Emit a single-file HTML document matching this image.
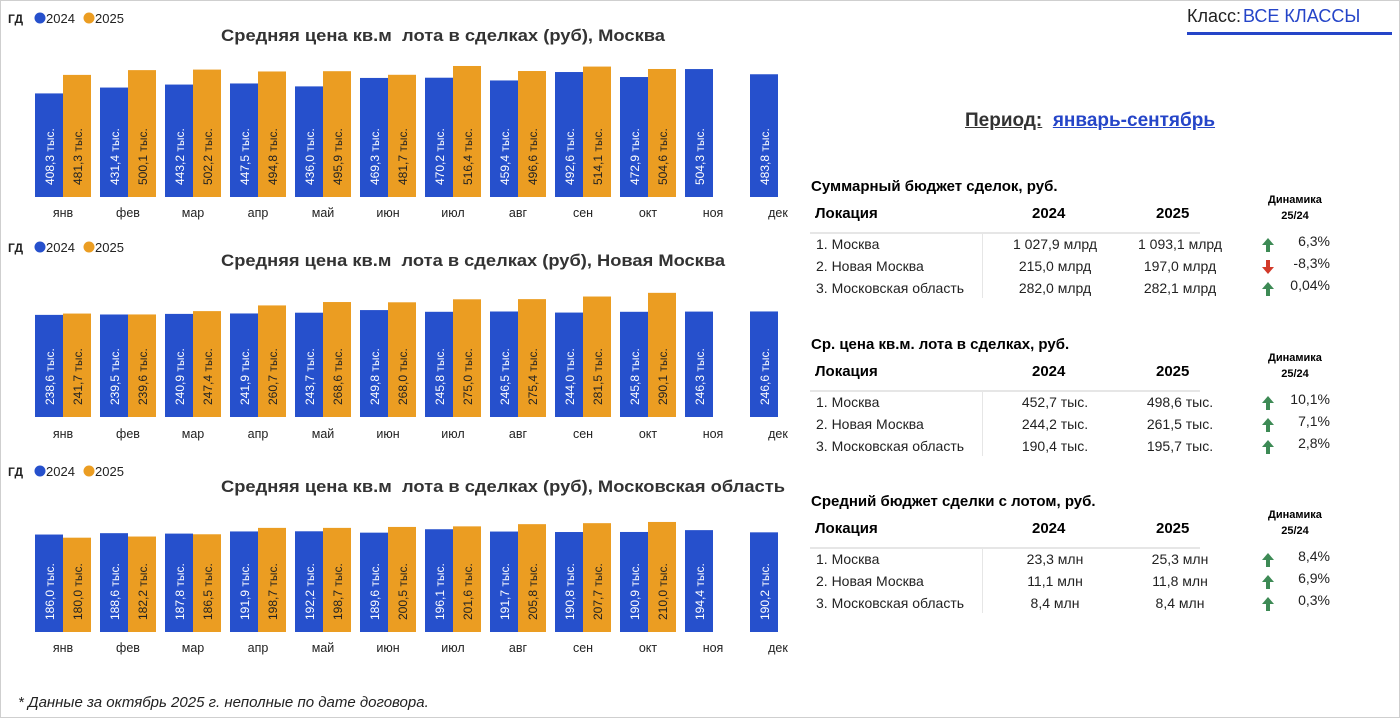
<!DOCTYPE html>
<html><head><meta charset="utf-8">
<style>
body{margin:0;width:1400px;height:718px;background:#fff;font-family:"Liberation Sans",Arial,sans-serif;overflow:hidden;position:relative}
#frame{position:absolute;left:0;top:0;width:1398px;height:716px;border:1px solid #cfcfcf}
.abs{position:absolute;white-space:nowrap}
.tbl-title{font-weight:bold;font-size:15px;color:#000}
.hdr{font-weight:bold;font-size:15px}
.cell{font-size:14px;color:#222}
.dyn{font-weight:bold;font-size:11px;text-align:center;width:80px}
</style></head><body>
<div id="frame"></div>
<svg id="charts" class="abs" style="left:0;top:0" width="800" height="680"></svg>
<div class="abs" style="left:1187px;top:6px;font-size:18px;color:#222">Класс:<span style="color:#2545c8;margin-left:2px">ВСЕ КЛАССЫ</span></div>
<div class="abs" style="left:1187px;top:32px;width:205px;height:3px;background:#2545c8"></div>
<div class="abs" style="left:965px;top:110px;font-size:19px;font-weight:bold;color:#333"><u>Период:</u>&nbsp; <u style="color:#2545c8">январь-сентябрь</u></div>
<div id="tables"></div>
<div class="abs" style="left:18px;top:694px;font-size:15px;font-style:italic;color:#222">* Данные за октябрь 2025 г. неполные по дате договора.</div>
<script>
const months=["янв","фев","мар","апр","май","июн","июл","авг","сен","окт","ноя","дек"];
const moscow2024=[408.3,431.4,443.2,447.5,436.0,469.3,470.2,459.4,492.6,472.9,504.3,483.8];
const moscow2025=[481.3,500.1,502.2,494.8,495.9,481.7,516.4,496.6,514.1,504.6];
const newMoscow2024=[238.6,239.5,240.9,241.9,243.7,249.8,245.8,246.5,244.0,245.8,246.3,246.6];
const newMoscow2025=[241.7,239.6,247.4,260.7,268.6,268.0,275.0,275.4,281.5,290.1];
const region2024=[186.0,188.6,187.8,191.9,192.2,189.6,196.1,191.7,190.8,190.9,194.4,190.2];
const region2025=[180.0,182.2,186.5,198.7,198.7,200.5,201.6,205.8,207.7,210.0];
const chartTitles=["Средняя цена кв.м\u00a0 лота в сделках (руб), Москва","Средняя цена кв.м\u00a0 лота в сделках (руб), Новая Москва","Средняя цена кв.м\u00a0 лота в сделках (руб), Московская область"];
const NS="http://www.w3.org/2000/svg";
const svg=document.getElementById('charts');
function mk(tag,attrs,parent){const e=document.createElementNS(NS,tag);for(const k in attrs)e.setAttribute(k,attrs[k]);(parent||svg).appendChild(e);return e;}
const fmt=v=>v.toFixed(1).replace('.',',')+' тыс.';
const cfg=[{a:moscow2024,b:moscow2025,base:197,k:0.2537,leg:18,title:36,mon:212,tw:444},
{a:newMoscow2024,b:newMoscow2025,base:417,k:0.428,leg:247,title:261,mon:433,tw:504},
{a:region2024,b:region2025,base:632,k:0.524,leg:471,title:487,mon:647,tw:564}];
const xPos=i=>35+65*i;
cfg.forEach((c,ci)=>{
 const g=mk('g',{});
 
 
 const gd=mk('text',{x:8,y:c.leg+5,'font-size':12,'font-weight':'bold',fill:'#222'},g);gd.textContent='ГД';
 
 [['#2650cc','2024',40],['#eb9d22','2025',89]].forEach(([col,t,x])=>{
  const le=mk('g',{},g);
  
  
  mk('circle',{cx:x,cy:c.leg,r:5.5,fill:col},le);
  const tt=mk('text',{x:x+6,y:c.leg+5,'font-size':13,fill:'#222'},le);tt.textContent=t;
 });
 const ti=mk('text',{x:221,y:c.title+5,'font-size':16.5,'font-weight':'bold',fill:'#333',textLength:c.tw,lengthAdjust:'spacingAndGlyphs'},g);ti.textContent=chartTitles[ci];
 
 months.forEach((m,i)=>{
  const x=xPos(i);
  const series=[[c.a[i],'#2650cc','#fff',x]];
  if(c.b[i]!==undefined)series.push([c.b[i],'#eb9d22','#222',x+28]);
  series.forEach(([v,col,tc,bx],si)=>{
   const h=v*c.k;
   const r=mk('rect',{x:bx,y:c.base-h,width:28,height:h,fill:col},g);
   
   
   const tx=bx+19,ty=c.base-12;
   const l=mk('text',{x:tx,y:ty,'font-size':12,fill:tc,transform:`rotate(-90 ${tx} ${ty})`},g);l.textContent=fmt(v);
   
  });
  const ml=mk('text',{x:x+28,y:c.mon+5,'font-size':12.5,fill:'#222','text-anchor':'middle'},g);ml.textContent=m;
  
 });
});
const tables=[
{title:"Суммарный бюджет сделок, руб.",top:178,rows:[["1. Москва","1 027,9 млрд","1 093,1 млрд","6,3%",1],["2. Новая Москва","215,0 млрд","197,0 млрд","-8,3%",0],["3. Московская область","282,0 млрд","282,1 млрд","0,04%",1]]},
{title:"Ср. цена кв.м. лота в сделках, руб.",top:336,rows:[["1. Москва","452,7 тыс.","498,6 тыс.","10,1%",1],["2. Новая Москва","244,2 тыс.","261,5 тыс.","7,1%",1],["3. Московская область","190,4 тыс.","195,7 тыс.","2,8%",1]]},
{title:"Средний бюджет сделки с лотом, руб.",top:493,rows:[["1. Москва","23,3 млн","25,3 млн","8,4%",1],["2. Новая Москва","11,1 млн","11,8 млн","6,9%",1],["3. Московская область","8,4 млн","8,4 млн","0,3%",1]]}];
let html='';
tables.forEach((t,ti)=>{
 const T=t.top;
 html+=`<div class="abs" style="left:0;top:0;width:1400px">`;
 html+=`<div class="abs tbl-title" style="left:811px;top:${T}px">${t.title}</div>`;
 html+=`<div class="abs dyn" style="left:1255px;top:${T+14}px;line-height:16px;white-space:normal">Динамика<br>25/24</div>`;
 html+=`<div class="abs hdr" style="left:815px;top:${T+27}px">Локация</div>`;
 html+=`<div class="abs hdr" style="left:1032px;top:${T+27}px">2024</div>`;
 html+=`<div class="abs hdr" style="left:1156px;top:${T+27}px">2025</div>`;
 html+=`<div class="abs" style="left:810px;top:${T+54}px;width:390px;height:2px;background:#e6e6e6"></div>`;
 html+=`<div class="abs" style="left:982px;top:${T+56}px;width:1px;height:64px;background:#e6e6e6"></div>`;
 t.rows.forEach((r,ri)=>{
  const y=T+58+ri*22;
  html+=`<div class="abs cell" style="left:816px;top:${y}px">${r[0]}</div>`;
  html+=`<div class="abs cell" style="left:985px;width:140px;text-align:center;top:${y}px">${r[1]}</div>`;
  html+=`<div class="abs cell" style="left:1110px;width:140px;text-align:center;top:${y}px">${r[2]}</div>`;
  const col=r[4]?'#3d8a55':'#d23a2a';
  const path=r[4]?'M7 1 L13 8 L9 8 L9 15 L5 15 L5 8 L1 8 Z':'M7 15 L13 8 L9 8 L9 1 L5 1 L5 8 L1 8 Z';
  html+=`<svg class="abs" style="left:1261px;top:${y+1}px" width="14" height="16"><path d="${path}" fill="${col}"/></svg>`;
  html+=`<div class="abs cell" style="left:1280px;width:50px;text-align:right;top:${y-3}px">${r[3]}</div>`;
 });
 html+='</div>';
});
document.getElementById('tables').innerHTML=html;
</script>
</body></html>
